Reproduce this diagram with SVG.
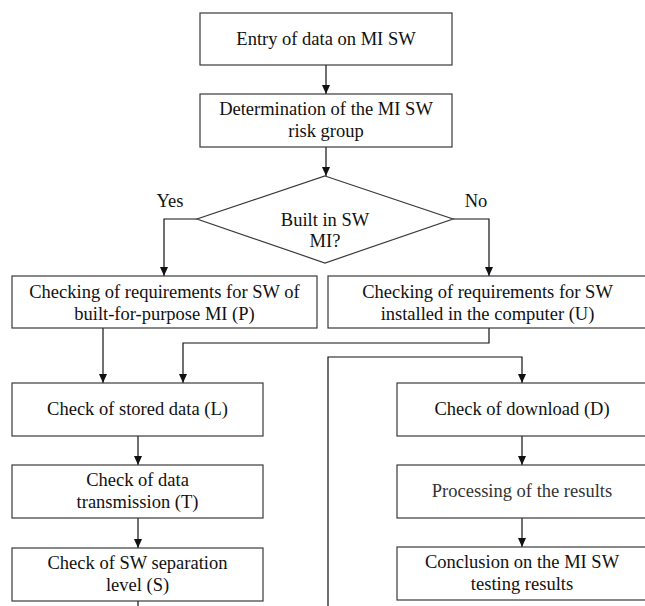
<svg xmlns="http://www.w3.org/2000/svg" width="645" height="606" viewBox="0 0 645 606">
  <style>
    .box { fill: #ffffff; stroke: #3a3a3a; stroke-width: 1.2; }
    .lbl { font-family: "Liberation Serif", "Times New Roman", serif; font-size: 18.5px; fill: #111111; text-anchor: middle; }
    .soft { fill: #333333; }
    .wire { fill: none; stroke: #111111; stroke-width: 1.2; }
  </style>
  <defs>
    <marker id="arrow" markerUnits="userSpaceOnUse" markerWidth="9" markerHeight="9" refX="9" refY="4" orient="auto">
      <path d="M0,0 L9,4 L0,8 Z" fill="#111111"/>
    </marker>
  </defs>
  <rect x="0" y="0" width="645" height="606" fill="#ffffff"/>

  <!-- connectors -->
  <g id="connectors">
    <path class="wire" d="M326,65 V94" marker-end="url(#arrow)"/>
    <path class="wire" d="M326,147 V176" marker-end="url(#arrow)"/>
    <path class="wire" d="M197,219 H164 V276" marker-end="url(#arrow)"/>
    <path class="wire" d="M453,219 H489 V276" marker-end="url(#arrow)"/>
    <path class="wire" d="M103,328 V383" marker-end="url(#arrow)"/>
    <path class="wire" d="M489,328 V343 H183 V383" marker-end="url(#arrow)"/>
    <path class="wire" d="M328,606 V357 H522 V383" marker-end="url(#arrow)"/>
    <path class="wire" d="M138,436 V465" marker-end="url(#arrow)"/>
    <path class="wire" d="M138,518 V548" marker-end="url(#arrow)"/>
    <path class="wire" d="M138,601 V606"/>
    <path class="wire" d="M522,436 V465" marker-end="url(#arrow)"/>
    <path class="wire" d="M522,518 V547" marker-end="url(#arrow)"/>
    <text class="lbl" x="170" y="207">Yes</text>
    <text class="lbl" x="476" y="207">No</text>
  </g>

  <g id="entry">
    <rect class="box" x="200" y="13" width="252" height="52"/>
    <text class="lbl" x="326" y="45">Entry of data on MI SW</text>
  </g>

  <g id="risk-group">
    <rect class="box" x="200" y="94" width="252" height="53"/>
    <text class="lbl" x="326" y="115">Determination of the MI SW</text>
    <text class="lbl" x="326" y="137">risk group</text>
  </g>

  <g id="decision">
    <polygon class="box" points="325,176 453,219 325,263 197,219"/>
    <text class="lbl" x="325" y="226">Built in SW</text>
    <text class="lbl" x="325" y="247">MI?</text>
  </g>

  <g id="check-p">
    <rect class="box" x="12" y="276" width="305" height="52"/>
    <text class="lbl" x="164.5" y="298">Checking of requirements for SW of</text>
    <text class="lbl" x="164.5" y="320">built-for-purpose MI (P)</text>
  </g>

  <g id="check-u">
    <rect class="box" x="328" y="276" width="319" height="52"/>
    <text class="lbl" x="487.5" y="298">Checking of requirements for SW</text>
    <text class="lbl" x="487.5" y="320">installed in the computer (U)</text>
  </g>

  <g id="check-l">
    <rect class="box" x="12" y="383" width="251" height="53"/>
    <text class="lbl" x="137.5" y="415">Check of stored data (L)</text>
  </g>

  <g id="check-t">
    <rect class="box" x="12" y="465" width="251" height="53"/>
    <text class="lbl" x="137.5" y="486">Check of data</text>
    <text class="lbl" x="137.5" y="508">transmission (T)</text>
  </g>

  <g id="check-s">
    <rect class="box" x="12" y="548" width="251" height="53"/>
    <text class="lbl" x="137.5" y="569">Check of SW separation</text>
    <text class="lbl" x="137.5" y="591">level (S)</text>
  </g>

  <g id="check-d">
    <rect class="box" x="397" y="383" width="250" height="53"/>
    <text class="lbl" x="522" y="415">Check of download (D)</text>
  </g>

  <g id="processing">
    <rect class="box" x="397" y="465" width="250" height="53"/>
    <text class="lbl soft" x="522" y="497">Processing of the results</text>
  </g>

  <g id="conclusion">
    <rect class="box" x="397" y="547" width="250" height="53"/>
    <text class="lbl" x="522" y="568">Conclusion on the MI SW</text>
    <text class="lbl" x="522" y="590">testing results</text>
  </g>
</svg>
